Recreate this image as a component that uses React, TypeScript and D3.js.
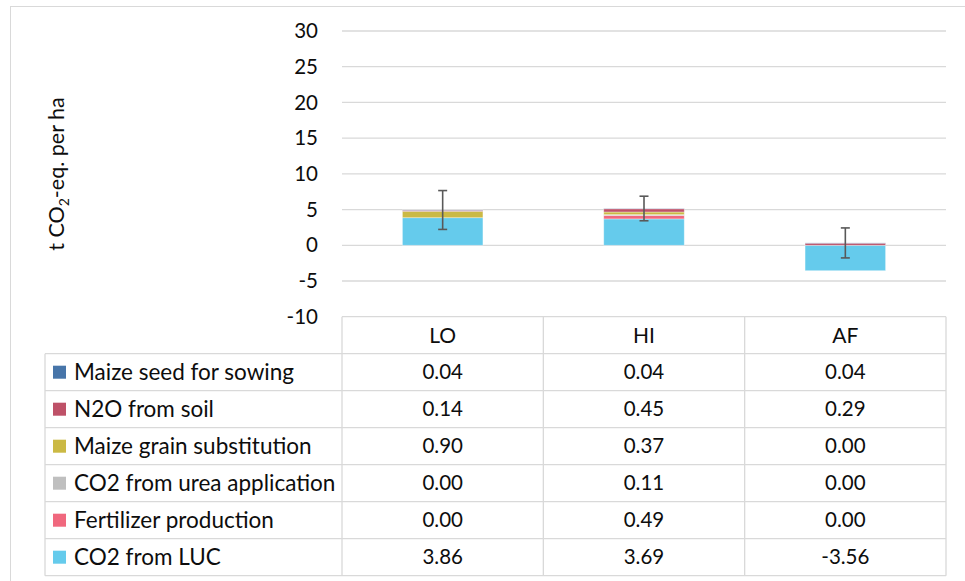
import React from 'react';
import * as d3 from 'd3';

const categories = ['LO', 'HI', 'AF'];
const seriesNames = [
  'CO2 from LUC',
  'Fertilizer production',
  'CO2 from urea application',
  'Maize grain substitution',
  'N2O from soil',
  'Maize seed for sowing',
];
const seriesColors = ['#65CBEC', '#F0687E', '#BFBFBF', '#CBB944', '#BE5168', '#4775A9'];
const co2LUC = [3.86, 3.69, -3.56];
const fertilizer = [0.0, 0.49, 0.0];
const urea = [0.0, 0.11, 0.0];
const maizeGrain = [0.9, 0.37, 0.0];
const n2o = [0.14, 0.45, 0.29];
const maizeSeed = [0.04, 0.04, 0.04];
const errorMagnitude = [2.72, 1.72, 2.1];
const yTicks = [30, 25, 20, 15, 10, 5, 0, -5, -10];

const seriesValues = [co2LUC, fertilizer, urea, maizeGrain, n2o, maizeSeed];

export default function App() {
  const W = 965, H = 581;
  const font = 'Lato, "Open Sans", sans-serif';
  const y = d3.scaleLinear().domain([-10, 30]).range([316.7, 31]);
  const x = d3.scaleBand().domain(categories).range([342, 946]).paddingInner(0).paddingOuter(0);
  const bw = x.bandwidth();
  const barW = bw * 0.4;

  const rows = categories.map((c, i) => {
    const r: any = { cat: c };
    seriesNames.forEach((s, j) => (r[s] = seriesValues[j][i]));
    return r;
  });
  const stack = d3.stack().keys(seriesNames).offset(d3.stackOffsetDiverging);
  const layers = stack(rows as any);

  const posTop = categories.map((_, i) =>
    seriesValues.reduce((a, arr) => a + (arr[i] > 0 ? arr[i] : 0), 0)
  );

  const tableTop = y(-10);
  const rowH = 37;
  const headerBottom = tableTop + rowH;
  const tableLeft = 45;
  const legendRight = 342;
  const tableRight = 946;
  const legendOrder = [...seriesNames].reverse();
  const legendValues = [...seriesValues].reverse();
  const legendColors = [...seriesColors].reverse();
  const gridColor = '#D9D9D9';
  const fs = 20.5;
  const fsLabel = 22.5;
  const textColor = '#0d0d0d';

  return (
    <svg width={W} height={H} style={{ position: 'absolute', left: 0, top: 0 }} fontFamily={font}>
      <rect x={0} y={0} width={W} height={H} fill="#fff" />
      <rect x={10.5} y={6.5} width={W + 20} height={H + 20} fill="none" stroke="#D9D9D9" strokeWidth={1} />
      {/* gridlines */}
      {yTicks.filter(t => t > -10).map(t => (
        <line key={t} x1={342} x2={946} y1={y(t)} y2={y(t)} stroke={gridColor} strokeWidth={1.3} />
      ))}
      {/* y tick labels */}
      {yTicks.map(t => (
        <text key={t} x={318} y={y(t)} dy="0.35em" textAnchor="end" fontSize={fs} fill={textColor}>
          {t}
        </text>
      ))}
      {/* y axis title */}
      <text transform={`translate(64,${174}) rotate(-90)`} textAnchor="middle" fontSize={21.5} fill={textColor}>
        t CO<tspan fontSize={14} dy={5}>2</tspan><tspan dy={-5}>-eq. per ha</tspan>
      </text>
      {/* bars */}
      {layers.map((layer, li) => (
        <g key={layer.key} fill={seriesColors[li]}>
          {layer.map((d, i) => {
            const y0 = y(d[0]), y1 = y(d[1]);
            const h = Math.abs(y0 - y1);
            if (h < 0.01) return null;
            return (
              <rect key={i} x={(x(categories[i]) as number) + (bw - barW) / 2} y={Math.min(y0, y1)} width={barW} height={h}
                stroke="#ffffff" strokeOpacity={0.45} strokeWidth={0.8} />
            );
          })}
        </g>
      ))}
      {/* error bars */}
      {categories.map((c, i) => {
        const cx = (x(c) as number) + bw / 2;
        const top = y(posTop[i] + errorMagnitude[i]);
        const bot = y(posTop[i] - errorMagnitude[i]);
        return (
          <g key={c} stroke="#595959" strokeWidth={1.6}>
            <line x1={cx} x2={cx} y1={top} y2={bot} />
            <line x1={cx - 4.5} x2={cx + 4.5} y1={top} y2={top} />
            <line x1={cx - 4.5} x2={cx + 4.5} y1={bot} y2={bot} />
          </g>
        );
      })}
      {/* table */}
      <g stroke={gridColor} strokeWidth={1.3} fill="none">
        <line x1={legendRight} x2={tableRight} y1={tableTop} y2={tableTop} />
        {legendOrder.map((_, r) => (
          <line key={r} x1={tableLeft} x2={tableRight} y1={headerBottom + r * rowH} y2={headerBottom + r * rowH} />
        ))}
        <line x1={tableLeft} x2={tableRight} y1={headerBottom + 6 * rowH} y2={headerBottom + 6 * rowH} />
        <line x1={tableLeft} x2={tableLeft} y1={headerBottom} y2={headerBottom + 6 * rowH} />
        {categories.map(c => (
          <line key={c} x1={x(c) as number} x2={x(c) as number} y1={tableTop} y2={headerBottom + 6 * rowH} />
        ))}
        <line x1={tableRight} x2={tableRight} y1={tableTop} y2={headerBottom + 6 * rowH} />
      </g>
      {categories.map(c => (
        <text key={c} x={(x(c) as number) + bw / 2} y={tableTop + rowH / 2} dy="0.35em" textAnchor="middle" fontSize={21} fill={textColor}>
          {c}
        </text>
      ))}
      {legendOrder.map((name, r) => {
        const cy = headerBottom + r * rowH + rowH / 2;
        return (
          <g key={name}>
            <rect x={53} y={cy - 6.5} width={13} height={13} fill={legendColors[r]} />
            <text x={74} y={cy} dy="0.35em" fontSize={fsLabel} fill={textColor}>{name}</text>
            {categories.map((c, i) => (
              <text key={c} x={(x(c) as number) + bw / 2} y={cy} dy="0.35em" textAnchor="middle" fontSize={fs} fill={textColor}>
                {legendValues[r][i].toFixed(2)}
              </text>
            ))}
          </g>
        );
      })}
    </svg>
  );
}
